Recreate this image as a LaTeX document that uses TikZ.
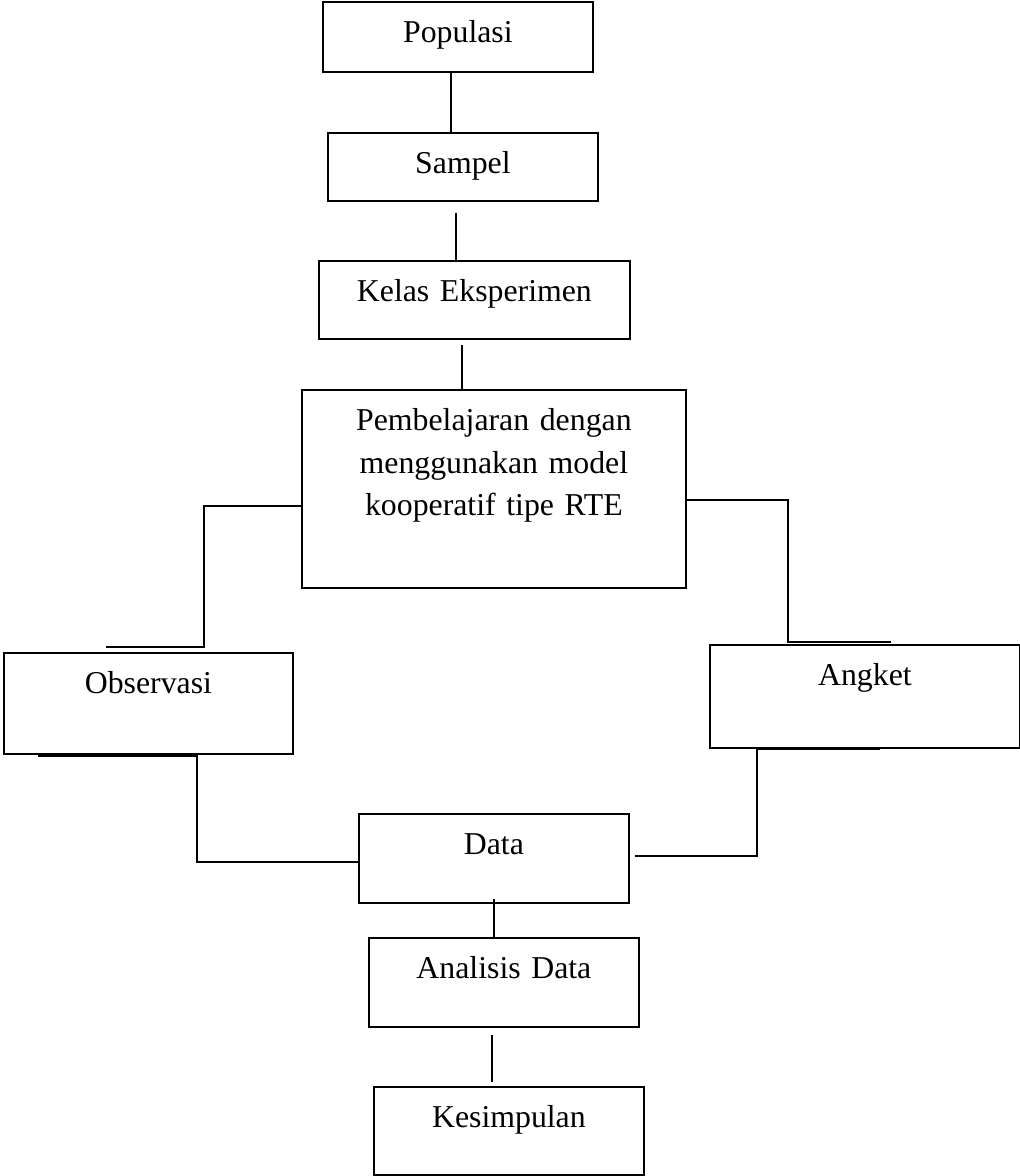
\documentclass[tikz,border=0pt]{standalone}
\usepackage{fontspec}
\setmainfont{Liberation Serif}

\tikzset{
  box/.style 2 args={draw, line width=0.9pt, inner sep=0pt, anchor=north west,
    align=center, text width=#1, text height=20.5pt, text depth=#2},
  link/.style={line width=0.9pt}
}

\begin{document}
\begin{tikzpicture}[x=0.5pt,y=-0.5pt,font=\fontsize{15.9}{21.25}\selectfont]
    \useasboundingbox (0,0) rectangle (1020,1176);
    \node (Pop) [box={135pt}{14.5pt}] at (322,1) {Populasi};
    \node (Smp) [box={135pt}{13.5pt}] at (327,132) {Sampel};
    \node (Kls) [box={155.5pt}{18.5pt}] at (318,260) {Kelas Eksperimen};
    \node (Pmb) [box={192pt}{78.5pt}] at (301,389) {Pembelajaran dengan\\ menggunakan model\\ kooperatif tipe RTE};
    \node (Obs) [box={144.5pt}{30pt}] at (3,652) {Observasi};
    \node (Ang) [box={155pt}{31pt}] at (709,644) {Angket};
    \node (Dat) [box={135pt}{24pt}] at (358,813) {Data};
    \node (Ana) [box={135pt}{24pt}] at (368,937) {Analisis Data};
    \node (Ksm) [box={135pt}{23.5pt}] at (373,1086) {Kesimpulan};
    % free ends of the side connectors
    \coordinate (obsM) at (204,647);
    \coordinate (obsL) at (106,647);
    \coordinate (angM) at (788,642);
    \coordinate (angR) at (891,642);
    \coordinate (obsB) at (38,756);
    \coordinate (obsC) at (197,756);
    \coordinate (angB) at (880,749);
    \coordinate (angC) at (757,749);
    \draw [link] ([xshift=-3.5pt]Pop.south) -- ([xshift=-3.5pt]Pop.south |- Smp.north);
    \draw [link] ([xshift=-3.5pt,yshift=-5.5pt]Smp.south) -- ([xshift=-3.5pt]Smp.south |- Kls.north);
    \draw [link] ([xshift=-6.25pt,yshift=-2.5pt]Kls.south) -- ([xshift=-6.25pt]Kls.south |- Pmb.north);
    \draw [link] ([yshift=-8.5pt]Pmb.west) -| (obsM) -- (obsL);
    \draw [link] ([yshift=-5.5pt]Pmb.east) -| (angM) -- (angR);
    \draw [link] (obsB) -- (obsC) |- ([yshift=-1.75pt]Dat.west);
    \draw [link] (angB) -- (angC) |- ([xshift=2.5pt,yshift=1.25pt]Dat.east);
    \draw [link] ([yshift=2.5pt]Dat.south) -- (Dat.south |- Ana.north);
    \draw [link] ([xshift=-6pt,yshift=-3.5pt]Ana.south) -- ([xshift=-6pt,yshift=2pt]Ana.south |- Ksm.north);
\end{tikzpicture}
\end{document}
